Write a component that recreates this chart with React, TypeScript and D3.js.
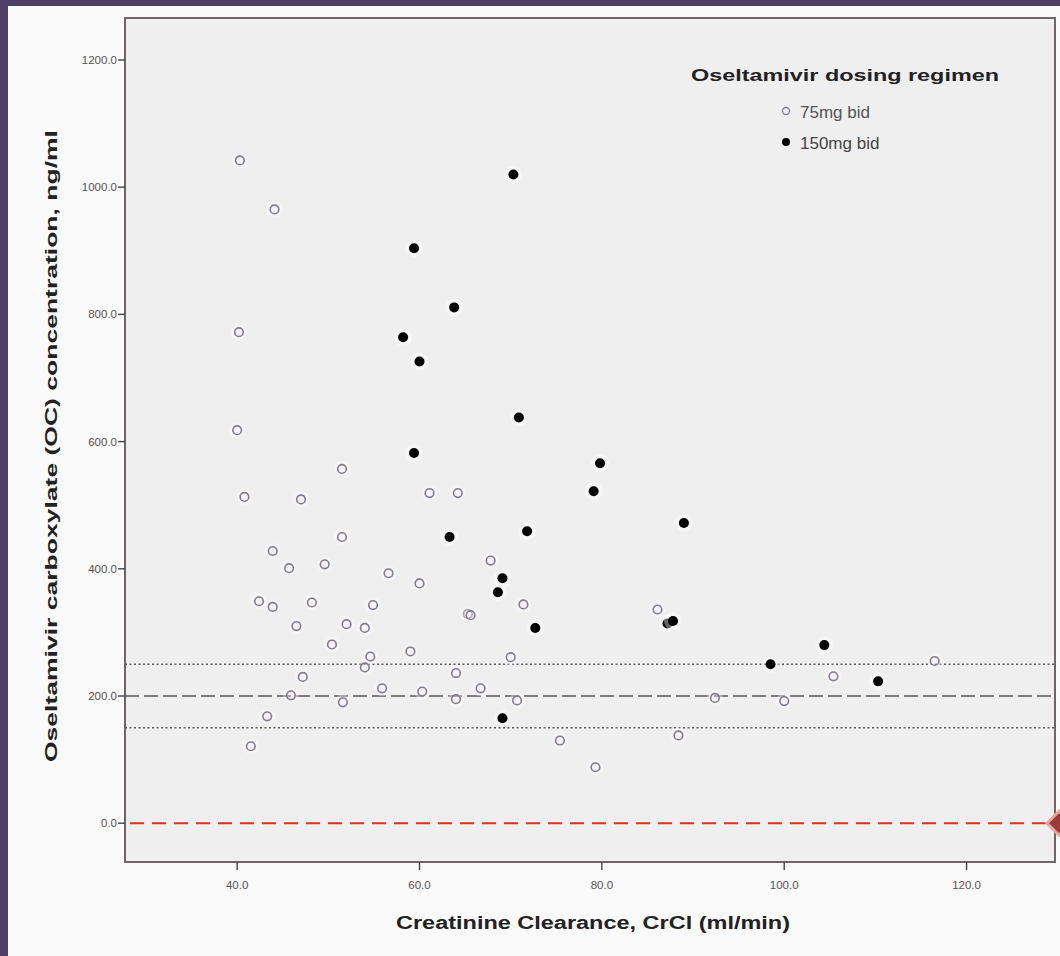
import React from "react";
import * as d3 from "d3";

const xTicks = [40, 60, 80, 100, 120];
const yTicks = [0, 200, 400, 600, 800, 1000, 1200];

// 75mg bid (open circles): [CrCl, OC]
const dose75: [number, number][] = [
  [40.3, 1042], [44.1, 965], [40.2, 772], [40.0, 618], [40.8, 513], [47.0, 509],
  [51.5, 557], [61.1, 519], [64.2, 519], [43.9, 428], [45.7, 401], [51.5, 450],
  [49.6, 407], [56.6, 393], [60.0, 377], [42.4, 349], [43.9, 340], [48.2, 347],
  [54.9, 343], [52.0, 313], [54.0, 307], [46.5, 310], [65.3, 329], [65.6, 327],
  [67.8, 413], [71.4, 344], [86.1, 336], [50.4, 281], [59.0, 270], [54.6, 262],
  [54.0, 245], [70.0, 261], [47.2, 230], [64.0, 236], [45.9, 201], [51.6, 190],
  [55.9, 212], [60.3, 207], [64.0, 195], [66.7, 212], [70.7, 193], [43.3, 168],
  [41.5, 121], [75.4, 130], [79.3, 88], [88.4, 138], [92.4, 197], [100.0, 192],
  [105.4, 231], [116.5, 255],
];

// 150mg bid (filled circles)
const dose150: [number, number][] = [
  [70.3, 1020], [59.4, 904], [63.8, 811], [58.2, 764], [60.0, 726], [70.9, 638],
  [59.4, 582], [79.8, 566], [79.1, 522], [63.3, 450], [71.8, 459], [89.0, 472],
  [69.1, 385], [68.6, 363], [72.7, 307], [87.2, 314], [87.8, 318], [98.5, 250],
  [104.4, 280], [110.3, 223], [69.1, 165],
];

const refDotted = [250, 150];
const refDashed = [200];
const refRed = [0];

const legendTitle = "Oseltamivir dosing regimen";
const legendItems = ["75mg bid", "150mg bid"];

const W = 1060;
const H = 956;
const plot = { left: 125, right: 1055, top: 18, bottom: 862 };

export default function App() {
  const x = d3.scaleLinear().domain([27.7, 129.7]).range([plot.left, plot.right]);
  const y = d3.scaleLinear().domain([-61, 1266]).range([plot.bottom, plot.top]);
  const fmt = d3.format(".1f");
  const font = "'Liberation Sans', Arial, sans-serif";

  return (
    <svg
      width={W}
      height={H}
      style={{ position: "absolute", left: 0, top: 0, display: "block" }}
      fontFamily={font}
    >
      <rect x={0} y={0} width={W} height={H} fill="#fafafa" />
      {/* purple slide frame */}
      <rect x={0} y={0} width={8} height={H} fill="#4f3e66" />
      <rect x={0} y={0} width={W} height={6} fill="#4f3e66" />

      {/* plot area */}
      <rect
        x={plot.left}
        y={plot.top}
        width={plot.right - plot.left}
        height={plot.bottom - plot.top}
        fill="#efefef"
        stroke="#6e6666"
        strokeWidth={2}
      />

      {/* reference lines */}
      {refDotted.map((v) => (
        <line key={"d" + v} x1={plot.left} x2={plot.right} y1={y(v)} y2={y(v)}
          stroke="#5e5656" strokeWidth={1.5} strokeDasharray="2,2.5" />
      ))}
      {refDashed.map((v) => (
        <line key={"l" + v} x1={plot.left} x2={plot.right} y1={y(v)} y2={y(v)}
          stroke="#5e5656" strokeWidth={1.5} strokeDasharray="14,5" />
      ))}
      {refRed.map((v) => (
        <g key={"r" + v}>
          <line x1={plot.left + 5} x2={plot.right - 8} y1={y(v)} y2={y(v)}
            stroke="#e0301e" strokeWidth={2} strokeDasharray="14,8" />
          <path
            d={`M${plot.right - 8},${y(v)} L${plot.right + 4},${y(v) - 12} L${plot.right + 16},${y(v)} L${plot.right + 4},${y(v) + 12} Z`}
            fill="#9c3b37" stroke="#e6a7a3" strokeWidth={3}
          />
        </g>
      ))}

      {/* y axis */}
      {yTicks.map((t) => (
        <g key={"yt" + t}>
          <line x1={plot.left - 7} x2={plot.left} y1={y(t)} y2={y(t)} stroke="#444" strokeWidth={1.4} />
          <text x={plot.left - 8} y={y(t)} dy="0.35em" textAnchor="end" fontSize={11.5} fill="#555">
            {fmt(t)}
          </text>
        </g>
      ))}
      {/* x axis */}
      {xTicks.map((t) => (
        <g key={"xt" + t}>
          <line x1={x(t)} x2={x(t)} y1={plot.bottom} y2={plot.bottom + 8} stroke="#444" strokeWidth={1.4} />
          <text x={x(t)} y={plot.bottom + 27} textAnchor="middle" fontSize={11.5} fill="#555">
            {fmt(t)}
          </text>
        </g>
      ))}

      {/* axis titles */}
      <text
        transform={`translate(57, ${(plot.top + plot.bottom) / 2 + 6}) rotate(-90)`}
        textAnchor="middle"
        fontSize={17}
        fontWeight="bold"
        fill="#222"
        textLength={632}
        lengthAdjust="spacingAndGlyphs"
      >
        Oseltamivir carboxylate (OC) concentration, ng/ml
      </text>
      <text
        x={593}
        y={929}
        textAnchor="middle"
        fontSize={18}
        fontWeight="bold"
        fill="#222"
        textLength={394}
        lengthAdjust="spacingAndGlyphs"
      >
        Creatinine Clearance, CrCl (ml/min)
      </text>

      {/* points */}
      {dose75.map(([cx, cy], i) => (
        <g key={"o" + i}>
          <circle cx={x(cx)} cy={y(cy)} r={8} fill="#ffffff" opacity={0.35} />
          <circle cx={x(cx)} cy={y(cy)} r={4.3} fill="none" stroke="#857a90" strokeWidth={1.6} />
        </g>
      ))}
      {dose150.map(([cx, cy], i) => (
        <g key={"f" + i}>
          <circle cx={x(cx)} cy={y(cy)} r={9} fill="#ffffff" opacity={0.4} />
          <circle cx={x(cx)} cy={y(cy)} r={5} fill="#000" />
        </g>
      ))}

      {/* legend */}
      <text x={845} y={81} textAnchor="middle" fontSize={17} fontWeight="bold" fill="#222"
        textLength={308} lengthAdjust="spacingAndGlyphs">
        {legendTitle}
      </text>
      <circle cx={786} cy={111} r={3.5} fill="none" stroke="#857a90" strokeWidth={1.3} />
      <text x={800} y={118} fontSize={17} fill="#555">{legendItems[0]}</text>
      <circle cx={786} cy={142} r={4} fill="#000" />
      <text x={800} y={149} fontSize={17} fill="#444">{legendItems[1]}</text>
    </svg>
  );
}
